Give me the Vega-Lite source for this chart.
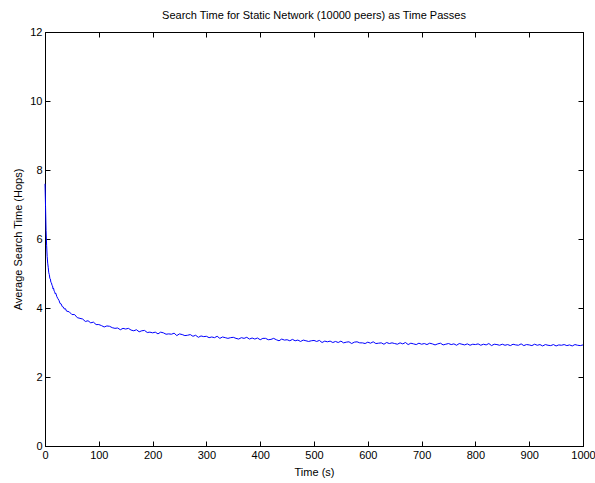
{
  "$schema": "https://vega.github.io/schema/vega-lite/v6.json",
  "width": 538,
  "height": 414,
  "autosize": {"type": "none"},
  "padding": {"left": 45, "top": 32, "right": 12, "bottom": 37},
  "background": "white",
  "title": {"text": "Search Time for Static Network (10000 peers) as Time Passes", "font": "Liberation Sans", "fontSize": 11, "fontWeight": "normal", "color": "#000000", "offset": 5},
  "config": {
    "view": {"stroke": "#000000", "strokeWidth": 1},
    "axis": {"grid": false, "domainColor": "#000000", "tickColor": "#000000", "labelColor": "#000000", "titleColor": "#000000", "labelFont": "Liberation Sans", "titleFont": "Liberation Sans", "labelFontSize": 11, "titleFontSize": 11, "titleFontWeight": "normal", "tickSize": -5, "labelPadding": 8, "labelFlush": false, "labelOverlap": false}
  },
  "data": {"values": [
    {"t":0,"v":7.6},{"t":1,"v":6.95},{"t":2,"v":6.25},{"t":3,"v":5.82},{"t":4,"v":5.5},{"t":5,"v":5.3},{"t":6,"v":5.18},{"t":7,"v":5.02},{"t":8,"v":4.97},{"t":9,"v":4.86},{"t":10,"v":4.84},{"t":11,"v":4.74},{"t":12,"v":4.73},{"t":13,"v":4.66},{"t":14,"v":4.64},{"t":15,"v":4.55},{"t":16,"v":4.57},{"t":17,"v":4.49},{"t":18,"v":4.47},{"t":19,"v":4.41},{"t":20,"v":4.43},{"t":22,"v":4.33},{"t":24,"v":4.27},{"t":26,"v":4.22},{"t":28,"v":4.13},{"t":30,"v":4.12},{"t":32,"v":4.04},{"t":34,"v":4.03},{"t":36,"v":3.97},{"t":38,"v":3.98},{"t":40,"v":3.91},
    {"t":45,"v":3.89},{"t":50,"v":3.81},{"t":55,"v":3.81},{"t":60,"v":3.72},{"t":65,"v":3.70},{"t":70,"v":3.68},{"t":75,"v":3.61},{"t":80,"v":3.63},{"t":85,"v":3.57},{"t":90,"v":3.59},{"t":95,"v":3.52},{"t":100,"v":3.52},
    {"t":105,"v":3.49},{"t":110,"v":3.45},{"t":115,"v":3.48},{"t":120,"v":3.47},{"t":125,"v":3.43},{"t":130,"v":3.41},{"t":135,"v":3.42},{"t":140,"v":3.37},{"t":145,"v":3.41},{"t":150,"v":3.39},{"t":155,"v":3.41},{"t":160,"v":3.36},{"t":165,"v":3.34},{"t":170,"v":3.37},{"t":175,"v":3.31},{"t":180,"v":3.34},{"t":185,"v":3.35},{"t":190,"v":3.29},{"t":195,"v":3.30},{"t":200,"v":3.28},
    {"t":205,"v":3.30},{"t":210,"v":3.25},{"t":215,"v":3.30},{"t":220,"v":3.28},{"t":225,"v":3.24},{"t":230,"v":3.25},{"t":235,"v":3.24},{"t":240,"v":3.27},{"t":245,"v":3.20},{"t":250,"v":3.25},{"t":255,"v":3.23},{"t":260,"v":3.20},{"t":265,"v":3.21},{"t":270,"v":3.23},{"t":275,"v":3.18},{"t":280,"v":3.21},{"t":285,"v":3.15},{"t":290,"v":3.19},{"t":295,"v":3.17},{"t":300,"v":3.18},
    {"t":305,"v":3.14},{"t":310,"v":3.16},{"t":315,"v":3.14},{"t":320,"v":3.18},{"t":325,"v":3.12},{"t":330,"v":3.16},{"t":335,"v":3.14},{"t":340,"v":3.12},{"t":345,"v":3.14},{"t":350,"v":3.15},{"t":355,"v":3.12},{"t":360,"v":3.10},{"t":365,"v":3.14},{"t":370,"v":3.12},{"t":375,"v":3.15},{"t":380,"v":3.10},{"t":385,"v":3.13},{"t":390,"v":3.10},{"t":395,"v":3.13},{"t":400,"v":3.08},
    {"t":405,"v":3.12},{"t":410,"v":3.12},{"t":415,"v":3.08},{"t":420,"v":3.09},{"t":425,"v":3.12},{"t":430,"v":3.08},{"t":435,"v":3.05},{"t":440,"v":3.10},{"t":445,"v":3.07},{"t":450,"v":3.08},{"t":455,"v":3.05},{"t":460,"v":3.09},{"t":465,"v":3.05},{"t":470,"v":3.07},{"t":475,"v":3.03},{"t":480,"v":3.07},{"t":485,"v":3.05},{"t":490,"v":3.03},{"t":495,"v":3.05},{"t":500,"v":3.06},
    {"t":505,"v":3.03},{"t":510,"v":3.06},{"t":515,"v":3.00},{"t":520,"v":3.04},{"t":525,"v":3.02},{"t":530,"v":3.04},{"t":535,"v":3.00},{"t":540,"v":3.03},{"t":545,"v":3.00},{"t":550,"v":3.04},{"t":555,"v":2.99},{"t":560,"v":3.01},{"t":565,"v":3.02},{"t":570,"v":2.97},{"t":575,"v":3.01},{"t":580,"v":3.02},{"t":585,"v":2.99},{"t":590,"v":2.99},{"t":595,"v":2.97},{"t":600,"v":3.01},
    {"t":605,"v":2.98},{"t":610,"v":3.02},{"t":615,"v":2.97},{"t":620,"v":2.98},{"t":625,"v":2.99},{"t":630,"v":2.95},{"t":635,"v":3.00},{"t":640,"v":2.97},{"t":645,"v":2.99},{"t":650,"v":2.97},{"t":655,"v":2.95},{"t":660,"v":2.99},{"t":665,"v":2.96},{"t":670,"v":3.00},{"t":675,"v":2.94},{"t":680,"v":2.98},{"t":685,"v":2.96},{"t":690,"v":2.94},{"t":695,"v":2.98},{"t":700,"v":2.95},
    {"t":705,"v":2.97},{"t":710,"v":2.94},{"t":715,"v":2.98},{"t":720,"v":2.96},{"t":725,"v":2.93},{"t":730,"v":2.96},{"t":735,"v":2.98},{"t":740,"v":2.93},{"t":745,"v":2.95},{"t":750,"v":2.97},{"t":755,"v":2.94},{"t":760,"v":2.96},{"t":765,"v":2.92},{"t":770,"v":2.97},{"t":775,"v":2.95},{"t":780,"v":2.93},{"t":785,"v":2.96},{"t":790,"v":2.92},{"t":795,"v":2.95},{"t":800,"v":2.94},
    {"t":805,"v":2.96},{"t":810,"v":2.92},{"t":815,"v":2.95},{"t":820,"v":2.93},{"t":825,"v":2.97},{"t":830,"v":2.91},{"t":835,"v":2.95},{"t":840,"v":2.94},{"t":845,"v":2.92},{"t":850,"v":2.95},{"t":855,"v":2.92},{"t":860,"v":2.94},{"t":865,"v":2.91},{"t":870,"v":2.95},{"t":875,"v":2.93},{"t":880,"v":2.92},{"t":885,"v":2.96},{"t":890,"v":2.91},{"t":895,"v":2.94},{"t":900,"v":2.93},
    {"t":905,"v":2.91},{"t":910,"v":2.95},{"t":915,"v":2.92},{"t":920,"v":2.94},{"t":925,"v":2.90},{"t":930,"v":2.94},{"t":935,"v":2.92},{"t":940,"v":2.91},{"t":945,"v":2.94},{"t":950,"v":2.90},{"t":955,"v":2.93},{"t":960,"v":2.92},{"t":965,"v":2.94},{"t":970,"v":2.91},{"t":975,"v":2.93},{"t":980,"v":2.90},{"t":985,"v":2.94},{"t":990,"v":2.92},{"t":995,"v":2.91},{"t":1000,"v":2.93}
  ]},
  "layer": [
    {
      "mark": {"type": "line", "color": "#0000ff", "strokeWidth": 1, "interpolate": "linear"},
      "encoding": {
        "x": {"field": "t", "type": "quantitative", "scale": {"domain": [0, 1000], "nice": false, "zero": false}, "axis": {"orient": "bottom", "values": [0,100,200,300,400,500,600,700,800,900,1000], "title": "Time (s)", "titlePadding": 6, "format": "d"}},
        "y": {"field": "v", "type": "quantitative", "scale": {"domain": [0, 12], "nice": false}, "axis": {"orient": "left", "values": [0,2,4,6,8,10,12], "title": "Average Search Time (Hops)", "titlePadding": 6, "format": "d"}}
      }
    },
    {
      "mark": {"type": "line", "opacity": 0},
      "encoding": {
        "x": {"field": "t", "type": "quantitative", "axis": {"orient": "top", "values": [0,100,200,300,400,500,600,700,800,900,1000], "labels": false, "title": null}},
        "y": {"field": "v", "type": "quantitative", "axis": {"orient": "right", "values": [0,2,4,6,8,10,12], "labels": false, "title": null}}
      }
    }
  ],
  "resolve": {"axis": {"x": "independent", "y": "independent"}}
}
